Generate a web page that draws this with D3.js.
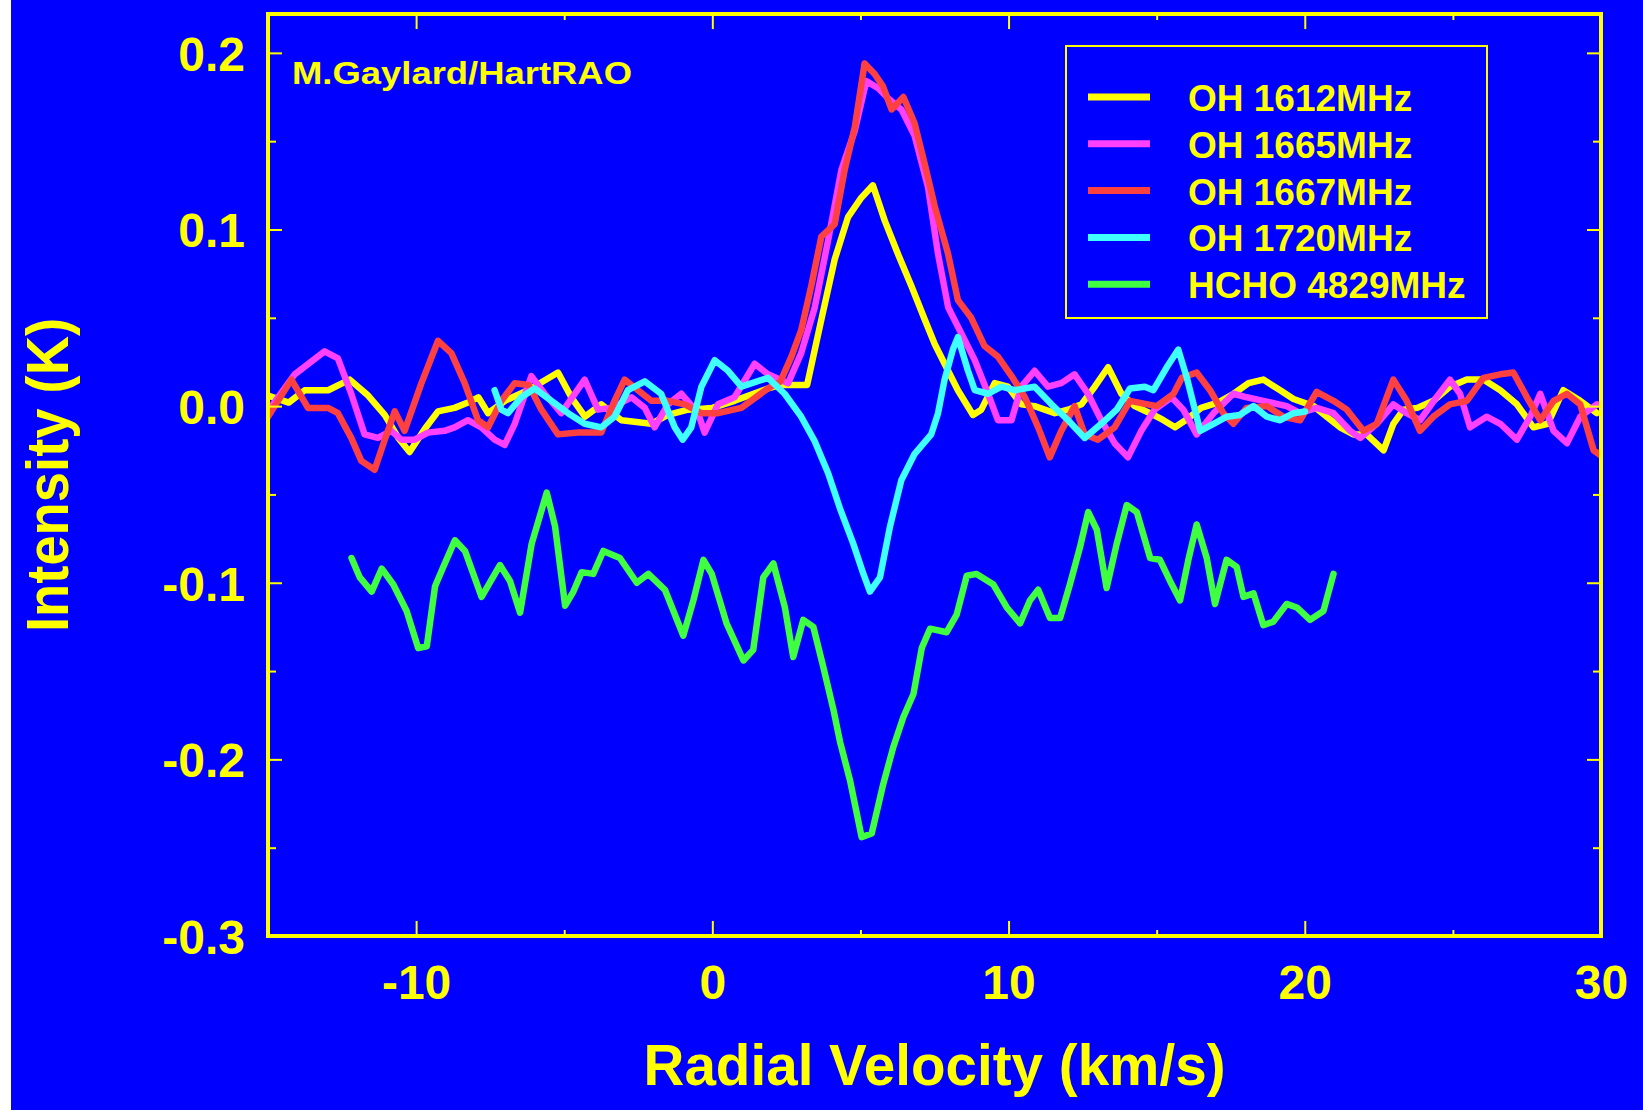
<!DOCTYPE html>
<html>
<head>
<meta charset="utf-8">
<script src="https://cdn.jsdelivr.net/npm/d3@7"></script>
<style>
  body { margin: 0; background: #fff; }
  svg { display: block; }
  text { font-family: "Liberation Sans", Arial, sans-serif; font-weight: bold; fill: #ffff00; }
</style>
</head>
<body>
<svg id="chart"></svg>
<script>
// spectra: [radial velocity km/s, intensity K]
const oh1612 = [
  [-15, 0.006], [-14.3, 0.002], [-13.76, 0.009], [-12.97, 0.009], [-12.24, 0.015], [-11.62, 0.006],
  [-11.06, -0.005], [-10.6, -0.018], [-10.22, -0.026], [-9.71, -0.013], [-9.26, -0.003], [-8.7, -0.001],
  [-8.25, 0.002], [-7.9, 0.005], [-7.57, -0.004], [-7.0, 0.003], [-6.22, 0.009], [-5.21, 0.019],
  [-4.76, 0.005], [-4.3, -0.006], [-3.75, 0.001], [-3.07, -0.008], [-2.06, -0.01], [-1.5, -0.005],
  [-0.82, -0.002], [0, -0.001], [0.75, 0.003], [1.88, 0.01], [2.3, 0.012], [3.2, 0.012],
  [3.68, 0.049], [4.13, 0.083], [4.58, 0.107], [5.03, 0.118], [5.42, 0.125], [5.82, 0.105],
  [6.27, 0.086], [6.72, 0.068], [7.17, 0.049], [7.51, 0.035], [7.84, 0.024], [8.29, 0.009],
  [8.8, -0.005], [9.08, -0.002], [9.53, 0.013], [9.98, 0.011], [10.43, 0.001], [10.88, 0],
  [11.56, -0.004], [12.01, -0.002], [12.46, 0.001], [12.91, 0.011], [13.36, 0.022], [13.81, 0.007],
  [14.26, 0], [14.78, -0.004], [15.23, -0.008], [15.62, -0.012], [16.06, -0.007], [16.5, -0.001],
  [17.07, 0.002], [17.6, 0.007], [18.1, 0.013], [18.6, 0.015], [19.17, 0.009], [19.62, 0.004],
  [20.3, 0], [20.74, -0.006], [21.19, -0.012], [21.64, -0.016], [22.09, -0.016], [22.66, -0.025],
  [22.99, -0.01], [23.33, -0.002], [23.8, -0.001], [24.34, 0.003], [24.9, 0.011], [25.47, 0.015],
  [26.03, 0.015], [26.6, 0.009], [27.16, 0.001], [27.72, -0.012], [28.2, -0.01], [28.73, 0.009],
  [29.3, 0.003], [29.86, -0.004]
];

const oh1665 = [
  [-15, -0.003], [-14.1, 0.018], [-13.09, 0.031], [-12.64, 0.027], [-12.19, 0.007], [-11.74, -0.016],
  [-11.29, -0.018], [-10.84, -0.014], [-10.5, -0.019], [-10.05, -0.019], [-9.6, -0.015], [-9.04, -0.014],
  [-8.7, -0.012], [-8.25, -0.008], [-7.8, -0.012], [-7.35, -0.019], [-7.01, -0.022], [-6.67, -0.01],
  [-6.11, 0.017], [-5.66, 0.007], [-5.1, -0.004], [-4.31, 0.015], [-3.86, -0.002], [-3.41, -0.001],
  [-2.73, 0.005], [-2.28, -0.001], [-1.95, -0.012], [-1.5, 0.001], [-1.05, 0.007], [-0.48, -0.004],
  [-0.26, -0.015], [0.19, 0.001], [0.75, 0.005], [1.43, 0.024], [1.88, 0.018], [2.56, 0.013],
  [3.0, 0.03], [3.46, 0.056], [3.91, 0.094], [4.36, 0.134], [4.81, 0.156], [5.2, 0.184],
  [5.6, 0.18], [5.95, 0.174], [6.38, 0.168], [6.83, 0.153], [7.28, 0.124], [7.62, 0.086],
  [7.96, 0.056], [8.41, 0.041], [8.86, 0.026], [9.31, 0.007], [9.64, -0.008], [10.1, -0.008],
  [10.43, 0.011], [10.88, 0.02], [11.33, 0.011], [11.78, 0.013], [12.23, 0.018], [12.68, 0.007],
  [13.13, -0.008], [13.58, -0.021], [14.03, -0.029], [14.48, -0.014], [14.93, -0.002], [15.5, 0.005],
  [15.9, -0.002], [16.35, -0.016], [16.92, -0.004], [17.59, 0.007], [18.04, 0.005], [18.6, 0.003],
  [19.39, 0], [19.84, -0.004], [20.4, -0.001], [20.97, -0.004], [21.53, -0.014], [21.87, -0.018],
  [22.43, -0.01], [22.99, 0.001], [23.44, -0.004], [23.89, -0.008], [24.4, 0.004], [24.9, 0.015],
  [25.24, 0.007], [25.58, -0.012], [26.14, -0.006], [26.6, -0.01], [27.16, -0.019], [27.61, -0.006],
  [27.95, 0.007], [28.4, -0.014], [28.85, -0.021], [29.3, -0.006], [29.86, 0.001]
];

const oh1667 = [
  [-15, -0.006], [-14.21, 0.015], [-13.65, -0.001], [-12.97, -0.001], [-12.64, -0.004], [-12.19, -0.018],
  [-11.85, -0.031], [-11.4, -0.036], [-11.06, -0.019], [-10.72, -0.003], [-10.39, -0.014], [-9.82, 0.013],
  [-9.26, 0.037], [-8.81, 0.03], [-8.36, 0.013], [-7.91, -0.008], [-7.57, -0.012], [-7.12, 0.003],
  [-6.67, 0.013], [-6.2, 0.012], [-5.77, -0.002], [-5.21, -0.016], [-4.53, -0.015], [-3.75, -0.015],
  [-3.3, 0.003], [-2.96, 0.015], [-2.51, 0.009], [-2.06, 0.003], [-1.5, 0.003], [-0.93, 0.001],
  [-0.37, -0.004], [0.19, -0.004], [0.98, -0.001], [1.88, 0.01], [2.3, 0.014], [2.67, 0.028],
  [3.0, 0.043], [3.34, 0.068], [3.68, 0.096], [4.13, 0.103], [4.47, 0.134], [4.81, 0.158],
  [5.14, 0.194], [5.48, 0.188], [5.76, 0.181], [6.05, 0.168], [6.45, 0.175], [6.83, 0.16],
  [7.17, 0.137], [7.51, 0.113], [7.96, 0.086], [8.29, 0.06], [8.74, 0.05], [9.19, 0.034],
  [9.64, 0.028], [10.1, 0.017], [10.55, 0.005], [11.0, -0.012], [11.39, -0.029], [11.78, -0.014],
  [12.23, 0], [12.57, -0.016], [13.02, -0.019], [13.58, -0.012], [14.1, 0.003], [15.0, 0],
  [15.57, 0.007], [15.85, 0.016], [16.35, 0.019], [16.8, 0.009], [17.25, -0.004], [17.59, -0.01],
  [18.04, -0.001], [18.72, 0], [19.28, -0.006], [19.84, -0.008], [20.4, 0.008], [20.97, 0.003],
  [21.42, -0.002], [21.98, -0.014], [22.43, -0.01], [22.99, 0.015], [23.44, 0.003], [23.89, -0.014],
  [24.34, -0.006], [24.9, 0.001], [25.47, 0.003], [26.03, 0.016], [26.6, 0.018], [27.04, 0.019],
  [27.5, 0.005], [27.95, -0.008], [28.4, 0.003], [28.85, 0.007], [29.3, 0.001], [29.75, -0.025],
  [30, -0.028]
];

const oh1720 = [
  [-7.35, 0.009], [-7.12, -0.002], [-6.9, -0.004], [-6.45, 0.005], [-6.0, 0.01], [-5.43, 0.003],
  [-4.87, -0.004], [-4.31, -0.01], [-3.75, -0.012], [-3.3, -0.006], [-2.85, 0.009], [-2.28, 0.014],
  [-1.73, 0.007], [-1.27, -0.012], [-1.0, -0.019], [-0.71, -0.012], [-0.37, 0.011], [0.08, 0.026],
  [0.53, 0.02], [0.98, 0.011], [1.88, 0.016], [2.44, 0.007], [3.0, -0.006], [3.46, -0.02],
  [3.91, -0.038], [4.31, -0.058], [4.76, -0.078], [5.1, -0.095], [5.32, -0.105], [5.66, -0.097],
  [6.0, -0.068], [6.38, -0.042], [6.83, -0.027], [7.39, -0.016], [7.62, -0.004], [7.84, 0.015],
  [8.12, 0.032], [8.29, 0.039], [8.63, 0.02], [8.86, 0.009], [9.31, 0.007], [9.76, 0.011],
  [10.21, 0.009], [10.88, 0.011], [11.45, 0.001], [12.01, -0.008], [12.57, -0.018], [13.13, -0.01],
  [13.65, -0.002], [14.1, 0.01], [14.6, 0.011], [14.89, 0.009], [15.34, 0.022], [15.73, 0.032],
  [16.02, 0.016], [16.47, -0.014], [16.92, -0.01], [17.37, -0.006], [17.8, -0.005], [18.27, 0],
  [18.72, -0.006], [19.17, -0.008], [19.62, -0.004], [20.01, -0.003]
];

const hcho4829 = [
  [-12.18, -0.086], [-11.9, -0.097], [-11.5, -0.105], [-11.16, -0.092], [-10.77, -0.101], [-10.32, -0.116],
  [-9.93, -0.137], [-9.64, -0.136], [-9.36, -0.102], [-9.08, -0.091], [-8.69, -0.076], [-8.35, -0.082],
  [-7.79, -0.108], [-7.17, -0.09], [-6.83, -0.099], [-6.49, -0.117], [-6.1, -0.078], [-5.59, -0.049],
  [-5.31, -0.068], [-4.97, -0.113], [-4.69, -0.105], [-4.41, -0.094], [-4.02, -0.095], [-3.68, -0.082],
  [-3.12, -0.086], [-2.55, -0.1], [-2.16, -0.095], [-1.6, -0.104], [-0.98, -0.13], [-0.64, -0.11],
  [-0.3, -0.087], [-0.02, -0.095], [0.48, -0.123], [1.05, -0.144], [1.38, -0.138], [1.72, -0.097],
  [2.06, -0.089], [2.45, -0.114], [2.73, -0.142], [3.07, -0.121], [3.41, -0.125], [3.75, -0.148],
  [4.09, -0.172], [4.31, -0.19], [4.65, -0.212], [5.04, -0.244], [5.38, -0.242], [5.77, -0.214],
  [6.11, -0.193], [6.45, -0.176], [6.79, -0.163], [7.07, -0.137], [7.35, -0.126], [7.91, -0.128],
  [8.25, -0.118], [8.59, -0.096], [8.92, -0.095], [9.49, -0.101], [9.94, -0.114], [10.39, -0.123],
  [10.72, -0.11], [11.0, -0.104], [11.4, -0.12], [11.74, -0.12], [12.07, -0.101], [12.41, -0.08],
  [12.69, -0.06], [12.98, -0.07], [13.31, -0.103], [13.65, -0.078], [13.99, -0.056], [14.33, -0.06],
  [14.78, -0.086], [15.11, -0.087], [15.45, -0.099], [15.79, -0.11], [16.07, -0.087], [16.35, -0.067],
  [16.69, -0.086], [16.97, -0.112], [17.36, -0.087], [17.7, -0.091], [17.93, -0.108], [18.27, -0.106],
  [18.6, -0.124], [18.94, -0.122], [19.39, -0.112], [19.73, -0.114], [20.18, -0.121], [20.63, -0.116],
  [20.97, -0.095]
];

const seriesNames = ["OH 1612MHz", "OH 1665MHz", "OH 1667MHz", "OH 1720MHz", "HCHO 4829MHz"];
const seriesData = [oh1612, oh1665, oh1667, oh1720, hcho4829];
const seriesColors = ["#ffff00", "#ff40ff", "#ff4040", "#40ffff", "#40ff40"];

const xMajorTicks = [-10, 0, 10, 20, 30];
const xMinorTicks = [-5, 5, 15, 25];
const yMajorTicks = [-0.3, -0.2, -0.1, 0, 0.1, 0.2];
const yMinorTicks = [-0.25, -0.15, -0.05, 0.05, 0.15];

const width = 1643, height = 1110;
const plotLeft = 268, plotRight = 1601, plotTop = 14, plotBottom = 936;
const yellow = "#ffff00";

const svg = d3.select("#chart").attr("width", width).attr("height", height);

// white strip on the left, blue everywhere else
svg.append("rect").attr("width", width).attr("height", height).attr("fill", "#ffffff");
svg.append("rect").attr("x", 11).attr("width", width - 11).attr("height", height).attr("fill", "#0000ff");

const x = d3.scaleLinear().domain([-15, 30]).range([plotLeft, plotRight]);
const y = d3.scaleLinear().domain([-0.3, 0.222]).range([plotBottom, plotTop]);

svg.append("clipPath").attr("id", "plot-clip")
  .append("rect")
  .attr("x", plotLeft).attr("y", plotTop)
  .attr("width", plotRight - plotLeft).attr("height", plotBottom - plotTop);

// spectra
const line = d3.line().x(d => x(d[0])).y(d => y(d[1]));
svg.append("g")
  .attr("clip-path", "url(#plot-clip)")
  .selectAll("path")
  .data(seriesData)
  .enter()
  .append("path")
  .attr("d", line)
  .attr("fill", "none")
  .attr("stroke", (d, i) => seriesColors[i])
  .attr("stroke-width", 6.5)
  .attr("stroke-linejoin", "round")
  .attr("stroke-linecap", "round");

// inward ticks on all four sides
function styleAxis(g) {
  g.select(".domain").remove();
  g.selectAll(".tick line").attr("stroke", yellow).attr("stroke-width", 2);
}

svg.append("g")
  .attr("transform", "translate(0," + plotBottom + ")")
  .call(d3.axisBottom(x).tickValues(xMajorTicks).tickSize(-15).tickFormat(d => String(d)))
  .call(styleAxis)
  .call(g => g.selectAll("text")
    .attr("y", 63).attr("dy", null)
    .attr("font-size", 48).attr("fill", yellow)
    .attr("font-family", null));

svg.append("g")
  .attr("transform", "translate(0," + plotBottom + ")")
  .call(d3.axisBottom(x).tickValues(xMinorTicks).tickSize(-6).tickFormat(""))
  .call(styleAxis);

svg.append("g")
  .attr("transform", "translate(0," + plotTop + ")")
  .call(d3.axisTop(x).tickValues(xMajorTicks).tickSize(-15).tickFormat(""))
  .call(styleAxis);

svg.append("g")
  .attr("transform", "translate(0," + plotTop + ")")
  .call(d3.axisTop(x).tickValues(xMinorTicks).tickSize(-6).tickFormat(""))
  .call(styleAxis);

svg.append("g")
  .attr("transform", "translate(" + plotLeft + ",0)")
  .call(d3.axisLeft(y).tickValues(yMajorTicks).tickSize(-14).tickFormat(d => d.toFixed(1)))
  .call(styleAxis)
  .call(g => g.selectAll("text")
    .attr("x", -23).attr("dy", "0.36em")
    .attr("font-size", 48).attr("fill", yellow)
    .attr("font-family", null));

svg.append("g")
  .attr("transform", "translate(" + plotLeft + ",0)")
  .call(d3.axisLeft(y).tickValues(yMinorTicks).tickSize(-8).tickFormat(""))
  .call(styleAxis);

svg.append("g")
  .attr("transform", "translate(" + plotRight + ",0)")
  .call(d3.axisRight(y).tickValues(yMajorTicks).tickSize(-14).tickFormat(""))
  .call(styleAxis);

svg.append("g")
  .attr("transform", "translate(" + plotRight + ",0)")
  .call(d3.axisRight(y).tickValues(yMinorTicks).tickSize(-8).tickFormat(""))
  .call(styleAxis);

// plot frame
svg.append("rect")
  .attr("x", plotLeft).attr("y", plotTop)
  .attr("width", plotRight - plotLeft).attr("height", plotBottom - plotTop)
  .attr("fill", "none").attr("stroke", yellow).attr("stroke-width", 4);

// axis titles
svg.append("text")
  .attr("x", (plotLeft + plotRight) / 2).attr("y", 1085)
  .attr("text-anchor", "middle")
  .attr("font-size", 58)
  .attr("textLength", 582).attr("lengthAdjust", "spacingAndGlyphs")
  .text("Radial Velocity (km/s)");

svg.append("text")
  .attr("transform", "translate(68," + (plotTop + plotBottom) / 2 + ") rotate(-90)")
  .attr("text-anchor", "middle")
  .attr("font-size", 60)
  .attr("textLength", 314).attr("lengthAdjust", "spacingAndGlyphs")
  .text("Intensity (K)");

svg.append("text")
  .attr("x", 292).attr("y", 84)
  .attr("font-size", 32)
  .attr("textLength", 340).attr("lengthAdjust", "spacingAndGlyphs")
  .text("M.Gaylard/HartRAO");

// legend
const legend = svg.append("g").attr("transform", "translate(1066,46)");
legend.append("rect")
  .attr("width", 421).attr("height", 272)
  .attr("fill", "none").attr("stroke", yellow).attr("stroke-width", 2);

const items = legend.selectAll("g.item")
  .data(seriesNames)
  .enter()
  .append("g")
  .attr("class", "item")
  .attr("transform", (d, i) => "translate(0," + (51 + i * 46.8) + ")");

items.append("line")
  .attr("x1", 22).attr("x2", 84)
  .attr("stroke", (d, i) => seriesColors[i])
  .attr("stroke-width", 7);

items.append("text")
  .attr("x", 122).attr("y", 14)
  .attr("font-size", 37)
  .text(d => d);
</script>
</body>
</html>
